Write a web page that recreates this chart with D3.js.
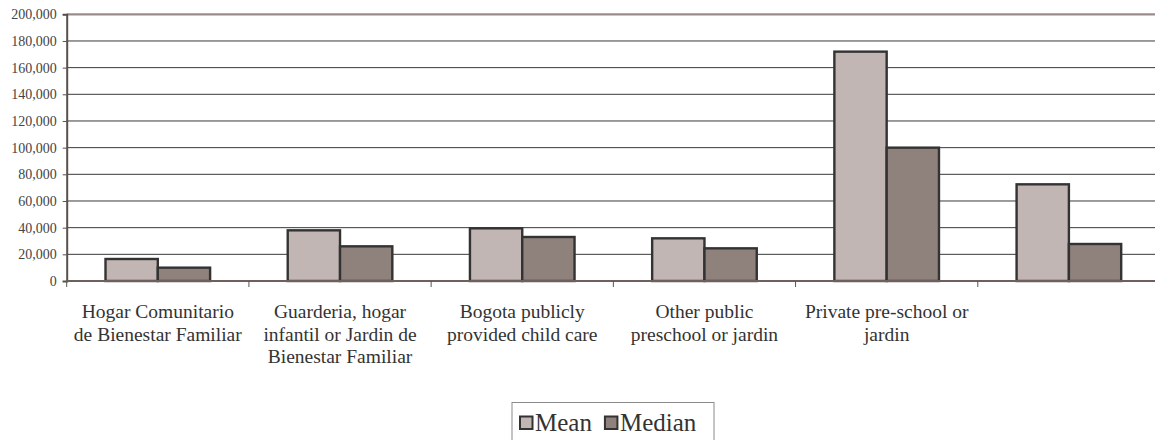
<!DOCTYPE html>
<html>
<head>
<meta charset="utf-8">
<script src="https://cdn.jsdelivr.net/npm/d3@7"></script>
<style>
  html, body { margin: 0; padding: 0; background: #fff; }
  svg { display: block; }
</style>
</head>
<body>
<svg id="chart" width="1155" height="440"></svg>
<script>
// Monthly cost of child care by type of provider
const categories = [
  "Hogar Comunitario de Bienestar Familiar",
  "Guarderia, hogar infantil or Jardin de Bienestar Familiar",
  "Bogota publicly provided child care",
  "Other public preschool or jardin",
  "Private pre-school or jardin",
  "Other"
];
// Category labels as wrapped lines (the last category's label is off the page)
const categoryLines = [
  ["Hogar Comunitario", "de Bienestar Familiar"],
  ["Guarderia, hogar", "infantil or Jardin de", "Bienestar Familiar"],
  ["Bogota publicly", "provided child care"],
  ["Other public", "preschool or jardin"],
  ["Private pre-school or", "jardin"],
  []
];
const series = ["Mean", "Median"];
const meanValues = [16500, 38000, 39500, 32000, 172000, 72500];
const medianValues = [10000, 26000, 33000, 24500, 100000, 27750];
const yTicks = [0, 20000, 40000, 60000, 80000, 100000, 120000, 140000, 160000, 180000, 200000];
const colors = { Mean: "#c1b6b3", Median: "#8f817c" };

const FONT = '"Liberation Serif"';
const rows = categories.map((c, i) => ({ category: c, Mean: meanValues[i], Median: medianValues[i] }));

const svg = d3.select("#chart");
const plotLeft = 66.7, plotRight = 1160, plotTop = 14.3, plotBottom = 281;

const y = d3.scaleLinear().domain([0, 200000]).range([plotBottom, plotTop]);
const x0 = d3.scaleBand().domain(categories).range([plotLeft, plotRight]).padding(0);
const x1 = d3.scaleBand().domain(series).range([0, x0.bandwidth()]).paddingInner(0).paddingOuter(0.742);

// Horizontal gridlines
svg.append("g")
  .selectAll("line")
  .data(yTicks.filter(t => t > 0 && t < 200000))
  .join("line")
  .attr("x1", plotLeft).attr("x2", plotRight)
  .attr("y1", d => y(d)).attr("y2", d => y(d))
  .attr("stroke", "#3a3a3a").attr("stroke-width", 1);

// Top edge of the plot area
svg.append("line")
  .attr("x1", plotLeft).attr("x2", plotRight)
  .attr("y1", y(200000)).attr("y2", y(200000))
  .attr("stroke", "#9a8c88").attr("stroke-width", 2.2);

// Y axis
const yAxis = svg.append("g")
  .attr("transform", `translate(${plotLeft},0)`)
  .call(d3.axisLeft(y).tickValues(yTicks).tickFormat(d3.format(",")).tickSize(4).tickPadding(6))
  .attr("font-family", null)
  .attr("font-size", null);
yAxis.select(".domain").attr("stroke", "#5a4f4c").attr("stroke-width", 2);
yAxis.selectAll(".tick line").attr("stroke", "#5a4f4c").attr("stroke-width", 1);
yAxis.selectAll(".tick text")
  .attr("font-family", "Liberation Serif")
  .style("font-family", FONT)
  .style("font-size", "14px")
  .style("fill", "#444");

// Bars
const groups = svg.append("g")
  .selectAll("g")
  .data(rows)
  .join("g")
  .attr("transform", d => `translate(${x0(d.category)},0)`);

groups.selectAll("rect")
  .data(d => series.map(s => ({ key: s, value: d[s] })))
  .join("rect")
  .attr("x", d => x1(d.key))
  .attr("y", d => y(d.value))
  .attr("width", x1.bandwidth())
  .attr("height", d => y(0) - y(d.value))
  .attr("fill", d => colors[d.key])
  .attr("stroke", "#333")
  .attr("stroke-width", 2.4);

// X axis with category boundary ticks
const xAxisG = svg.append("g");
xAxisG.append("line")
  .attr("x1", plotLeft).attr("x2", plotRight)
  .attr("y1", y(0)).attr("y2", y(0))
  .attr("stroke", "#6e615d").attr("stroke-width", 2.2);
xAxisG.selectAll("line.tick")
  .data(categories)
  .join("line")
  .attr("class", "tick")
  .attr("x1", d => x0(d)).attr("x2", d => x0(d))
  .attr("y1", y(0)).attr("y2", y(0) + 6)
  .attr("stroke", "#555").attr("stroke-width", 1);

// Category labels, one text element per line
const labelG = svg.append("g");
categories.forEach((c, i) => {
  categoryLines[i].forEach((line, j) => {
    labelG.append("text")
      .attr("x", x0(c) + x0.bandwidth() / 2)
      .attr("y", 318 + j * 22.5)
      .attr("text-anchor", "middle")
      .attr("font-family", "Liberation Serif")
      .style("font-family", FONT)
      .style("font-size", "19.5px")
      .style("fill", "#333")
      .text(line);
  });
});

// Legend
const legend = svg.append("g");
legend.append("rect")
  .attr("x", 512).attr("y", 402.5)
  .attr("width", 202).attr("height", 50)
  .attr("fill", "#fff").attr("stroke", "#8a8a8a").attr("stroke-width", 1);
let lx = 520;
series.forEach((s, i) => {
  legend.append("rect")
    .attr("x", lx).attr("y", 416.5)
    .attr("width", 12.5).attr("height", 12.5)
    .attr("fill", colors[s]).attr("stroke", "#333").attr("stroke-width", 2);
  const t = legend.append("text")
    .attr("x", lx + 15).attr("y", 431)
    .attr("font-family", "Liberation Serif")
    .style("font-family", FONT)
    .style("font-size", "25px")
    .style("fill", "#333")
    .text(s);
  lx += 15 + t.node().getComputedTextLength() + 13;
});
</script>
</body>
</html>
